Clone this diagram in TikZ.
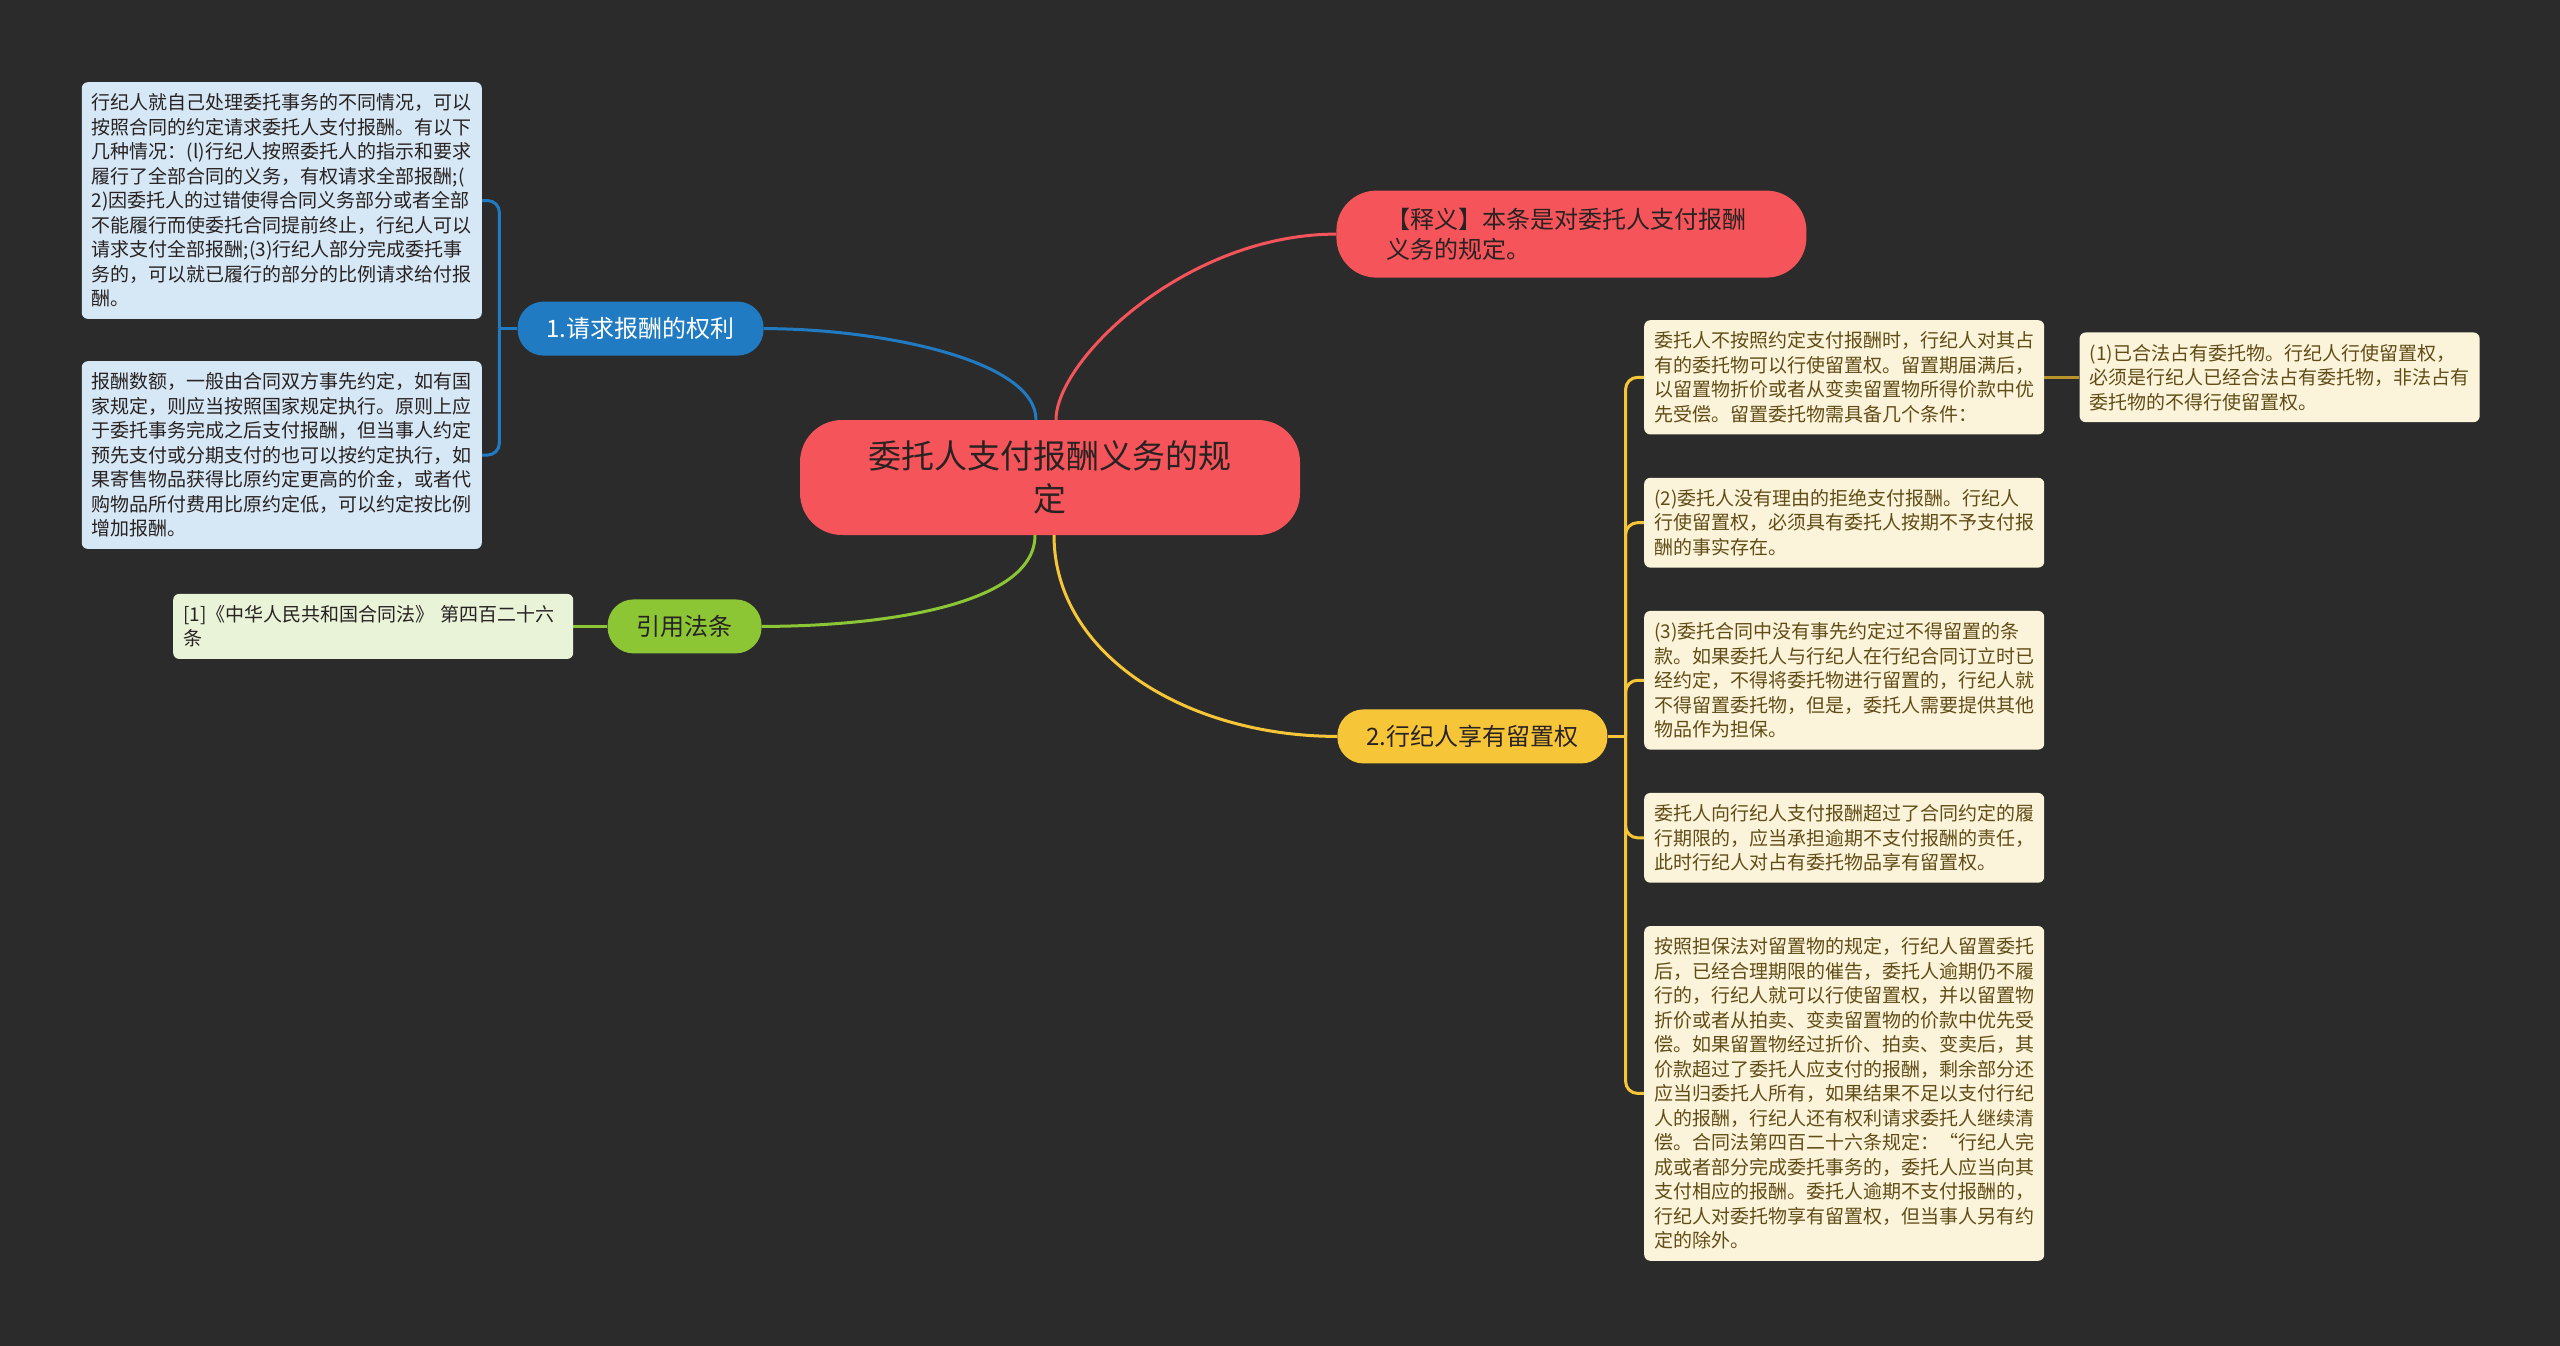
\documentclass[tikz,border=0pt]{standalone}
\usepackage{fontspec}
\setmainfont{Noto Sans CJK SC}
\usetikzlibrary{positioning}

\definecolor{bgdark}{RGB}{43,43,43}
\definecolor{rootred}{RGB}{245,85,90}
\definecolor{topicblue}{RGB}{33,123,194}
\definecolor{topicgreen}{RGB}{140,198,52}
\definecolor{topicyellow}{RGB}{247,197,56}
\definecolor{leafblue}{RGB}{214,231,245}
\definecolor{leafgreen}{RGB}{232,243,216}
\definecolor{leafyellow}{RGB}{252,244,218}
\definecolor{inkbrown}{RGB}{96,76,22}
\definecolor{inkdark}{RGB}{40,34,34}

\begin{document}
\begin{tikzpicture}[
    x=1pt, y=-1pt,
    mainnode/.style={rounded corners=42pt, fill=rootred, text=inkdark, align=center, minimum width=500pt, minimum height=115pt, font=\fontsize{33pt}{43pt}\selectfont},
    notenode/.style={rounded corners=40pt, fill=rootred, text=inkdark, align=left, text width=370pt, inner xsep=50pt, minimum height=87pt, font=\fontsize{24pt}{30pt}\selectfont},
    topicnode/.style={rounded corners=26pt, inner xsep=29pt, inner ysep=0pt, minimum height=54pt, font=\fontsize{24pt}{29pt}\selectfont},
    leafbox/.style={rounded corners=6pt, align=left, text width=380pt, inner xsep=10pt, inner ysep=11.5pt, font=\fontsize{19pt}{24.5pt}\selectfont},
    link/.style={line width=3pt},
]

% Canvas
\useasboundingbox (0,0) rectangle (2560,1345);
\fill[bgdark] (-2,-2) rectangle (2562,1347);

% Centre and main topics
\node[mainnode] (main) at (1050,477.5) {委托人支付报酬义务的规\\定};
\node[notenode, above right=142pt and 36pt of main] (note) {【释义】本条是对委托人支付报酬\\义务的规定。};
\node[topicnode, fill=topicblue, text=white, above left=64pt and 36pt of main] (b1) {1.请求报酬的权利};
\node[topicnode, fill=topicgreen, text=inkdark, below left=64pt and 38pt of main] (lawb) {引用法条};
\node[topicnode, fill=topicyellow, text=inkdark, below right=174pt and 37pt of main] (b2) {2.行纪人享有留置权};

% Left leaves
\node[leafbox, fill=leafblue, text=inkdark, anchor=north east] (l1) at (482,82) {行纪人就自己处理委托事务的不同情况，可以\\按照合同的约定请求委托人支付报酬。有以下\\几种情况：(l)行纪人按照委托人的指示和要求\\履行了全部合同的义务，有权请求全部报酬;(\\2)因委托人的过错使得合同义务部分或者全部\\不能履行而使委托合同提前终止，行纪人可以\\请求支付全部报酬;(3)行纪人部分完成委托事\\务的，可以就已履行的部分的比例请求给付报\\酬。};
\node[leafbox, fill=leafblue, text=inkdark, below=42pt of l1] (l2) {报酬数额，一般由合同双方事先约定，如有国\\家规定，则应当按照国家规定执行。原则上应\\于委托事务完成之后支付报酬，但当事人约定\\预先支付或分期支付的也可以按约定执行，如\\果寄售物品获得比原约定更高的价金，或者代\\购物品所付费用比原约定低，可以约定按比例\\增加报酬。};
\node[leafbox, fill=leafgreen, text=inkdark, left=34pt of lawb] (law) {[1]《中华人民共和国合同法》 第四百二十六\\条};

% Right leaves
\node[leafbox, fill=leafyellow, text=inkbrown, anchor=north west] (r1) at (1644,320) {委托人不按照约定支付报酬时，行纪人对其占\\有的委托物可以行使留置权。留置期届满后，\\以留置物折价或者从变卖留置物所得价款中优\\先受偿。留置委托物需具备几个条件：};
\node[leafbox, fill=leafyellow, text=inkbrown, right=35pt of r1] (r1a) {(1)已合法占有委托物。行纪人行使留置权，\\必须是行纪人已经合法占有委托物，非法占有\\委托物的不得行使留置权。};
\node[leafbox, fill=leafyellow, text=inkbrown, below=43pt of r1] (r2) {(2)委托人没有理由的拒绝支付报酬。行纪人\\行使留置权，必须具有委托人按期不予支付报\\酬的事实存在。};
\node[leafbox, fill=leafyellow, text=inkbrown, below=43pt of r2] (r3) {(3)委托合同中没有事先约定过不得留置的条\\款。如果委托人与行纪人在行纪合同订立时已\\经约定，不得将委托物进行留置的，行纪人就\\不得留置委托物，但是，委托人需要提供其他\\物品作为担保。};
\node[leafbox, fill=leafyellow, text=inkbrown, below=43pt of r3] (r4) {委托人向行纪人支付报酬超过了合同约定的履\\行期限的，应当承担逾期不支付报酬的责任，\\此时行纪人对占有委托物品享有留置权。};
\node[leafbox, fill=leafyellow, text=inkbrown, below=43pt of r4] (r5) {按照担保法对留置物的规定，行纪人留置委托\\后，已经合理期限的催告，委托人逾期仍不履\\行的，行纪人就可以行使留置权，并以留置物\\折价或者从拍卖、变卖留置物的价款中优先受\\偿。如果留置物经过折价、拍卖、变卖后，其\\价款超过了委托人应支付的报酬，剩余部分还\\应当归委托人所有，如果结果不足以支付行纪\\人的报酬，行纪人还有权利请求委托人继续清\\偿。合同法第四百二十六条规定：“行纪人完\\成或者部分完成委托事务的，委托人应当向其\\支付相应的报酬。委托人逾期不支付报酬的，\\行纪人对委托物享有留置权，但当事人另有约\\定的除外。};

% Curves from the centre
\draw[link, topicblue] ([xshift=-14pt]main.north) .. controls +(0,-60) and +(116,0) .. (b1.east);
\draw[link, rootred] ([xshift=6pt]main.north) .. controls +(0,-60) and +(-150,0) .. (note.west);
\draw[link, topicgreen] ([xshift=-15pt]main.south) .. controls +(0,70) and +(120,0) .. (lawb.east);
\draw[link, topicyellow] ([xshift=4pt]main.south) .. controls +(0,120) and +(-150,0) .. (b2.west);

% Brackets
\coordinate[left=18pt of b1.west] (s1);
\coordinate[right=18pt of b2.east] (s2);
\draw[link, topicblue] (b1.west) -- (s1);
\foreach \leaf in {l1,l2}
    \draw[link, topicblue, rounded corners=12pt] (s1) |- (\leaf.east);
\draw[link, topicgreen] (lawb.west) -- (law.east);
\draw[link, topicyellow] (b2.east) -- (s2);
\foreach \leaf in {r1,r2,r3,r4,r5}
    \draw[link, topicyellow, rounded corners=12pt] (s2) |- (\leaf.west);
\draw[link, line width=2.5pt, topicyellow!75!black] (r1.east) -- (r1a.west);

\end{tikzpicture}
\end{document}
